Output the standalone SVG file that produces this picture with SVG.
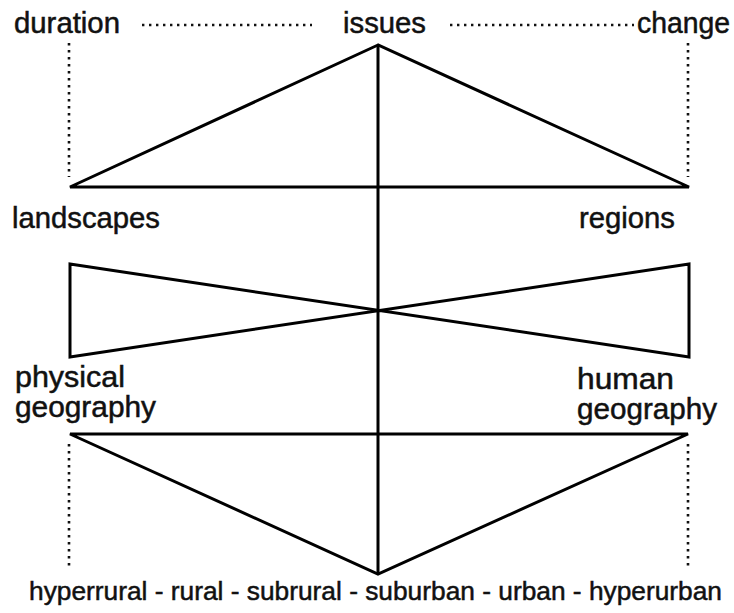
<svg xmlns="http://www.w3.org/2000/svg" width="734" height="613" viewBox="0 0 734 613">
  <style>
    .lbl { font-family: "Liberation Sans", Arial, sans-serif; font-size: 29px; fill: #111; stroke: #111; stroke-width: 0.5; }
    .solid { stroke: #000; stroke-width: 3; fill: none; stroke-linejoin: miter; }
    .dot { stroke: #111; stroke-width: 2.6; fill: none; stroke-dasharray: 2.4 4.6; }
  </style>
  <rect width="734" height="613" fill="#fff"/>
  <g id="connectors">
    <path class="solid" d="M378 45 L70 187 L689 187 Z"/>
    <line class="solid" x1="378" y1="45" x2="378" y2="574"/>
    <path class="solid" d="M70 264 L689 357 L689 264 L70 357 Z"/>
    <path class="solid" d="M70 434 L688 434 L378 574 Z"/>
    <line class="dot" x1="142" y1="25" x2="312" y2="25"/>
    <line class="dot" x1="450" y1="25" x2="634" y2="25"/>
    <line class="dot" x1="69" y1="43" x2="69" y2="177"/>
    <line class="dot" x1="688" y1="43" x2="688" y2="177"/>
    <line class="dot" x1="69" y1="444" x2="69" y2="567"/>
    <line class="dot" x1="688" y1="444" x2="688" y2="567"/>
  </g>
  <g id="duration"><text class="lbl" x="14" y="33" textLength="106" lengthAdjust="spacingAndGlyphs">duration</text></g>
  <g id="issues"><text class="lbl" x="343" y="33" textLength="83" lengthAdjust="spacingAndGlyphs">issues</text></g>
  <g id="change"><text class="lbl" x="637" y="33" textLength="93" lengthAdjust="spacingAndGlyphs">change</text></g>
  <g id="landscapes"><text class="lbl" x="12" y="228" textLength="148" lengthAdjust="spacingAndGlyphs">landscapes</text></g>
  <g id="regions"><text class="lbl" x="579" y="228" textLength="96" lengthAdjust="spacingAndGlyphs">regions</text></g>
  <g id="physical-geography">
    <text class="lbl" x="15" y="387" textLength="110" lengthAdjust="spacingAndGlyphs">physical</text>
    <text class="lbl" x="15" y="417" textLength="141" lengthAdjust="spacingAndGlyphs">geography</text>
  </g>
  <g id="human-geography">
    <text class="lbl" x="577" y="389" textLength="97" lengthAdjust="spacingAndGlyphs">human</text>
    <text class="lbl" x="577" y="419" textLength="140" lengthAdjust="spacingAndGlyphs">geography</text>
  </g>
  <g id="scale"><text class="lbl" x="29" y="600" style="font-size:26.3px" textLength="693" lengthAdjust="spacingAndGlyphs">hyperrural - rural - subrural - suburban - urban - hyperurban</text></g>
</svg>
